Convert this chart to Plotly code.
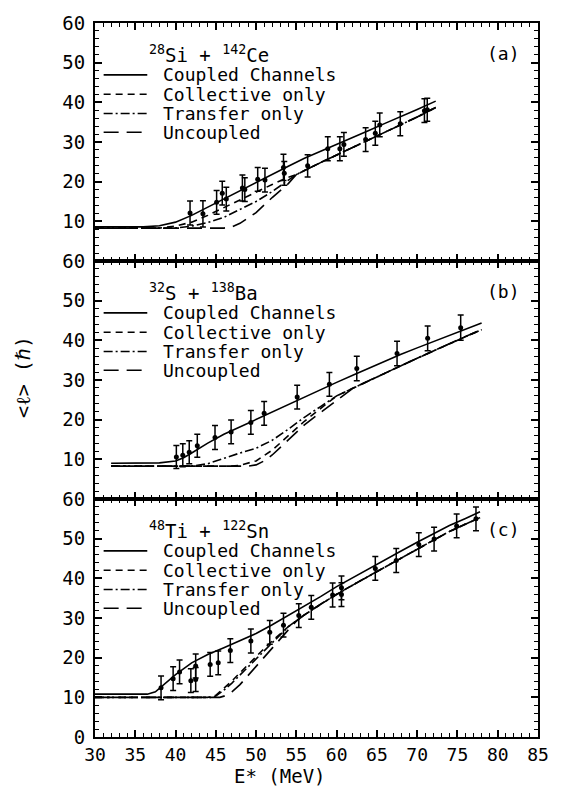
import plotly.graph_objects as go

# ---------------- data ----------------
# Panel (a) 28Si + 142Ce
a_exp_E = [41.8, 43.4, 45.1, 45.8, 46.3, 48.3, 48.6, 50.2, 51.1, 53.4, 53.5, 56.4, 58.9, 60.4, 60.9, 63.6, 64.8, 65.35, 67.9, 70.9, 71.25]
a_exp_L = [12.1, 11.9, 14.8, 17.1, 15.6, 18.4, 18.0, 20.6, 20.4, 23.6, 22.1, 24.0, 28.3, 28.3, 29.4, 30.6, 32.2, 34.3, 34.6, 37.9, 38.1]
a_exp_err = [3.0, 3.3, 3.0, 3.0, 3.0, 3.3, 3.0, 3.0, 3.0, 3.3, 3.0, 2.8, 3.0, 3.0, 3.0, 3.0, 3.0, 3.0, 3.0, 3.0, 2.9]
a_cc_E = [30, 36, 38, 40, 42, 44, 46, 48, 50, 52, 54, 56, 58, 60, 62, 64, 66, 68, 70, 72.3]
a_cc_L = [8.6, 8.6, 8.9, 9.8, 11.5, 13.6, 15.7, 17.8, 19.9, 21.9, 23.9, 25.9, 27.6, 29.4, 31.1, 32.9, 34.7, 36.4, 38.2, 40.3]
a_low_E = [55, 58, 60, 62, 64, 66, 68, 70, 72.3]
a_low_L = [21.8, 24.8, 26.7, 28.6, 30.5, 32.4, 34.3, 36.3, 38.7]
a_col_E = [30, 38, 40, 42, 44, 46, 48, 50, 52, 54]
a_col_L = [8.3, 8.3, 8.8, 9.8, 11.5, 13.5, 15.4, 17.3, 19.3, 21.1]
a_tr_E = [30, 40, 42, 44, 46, 48, 50, 52, 54]
a_tr_L = [8.3, 8.3, 8.8, 9.7, 11.0, 12.9, 15.0, 17.5, 20.3]
a_un_E = [30, 46, 47, 48, 50, 52, 54]
a_un_L = [8.3, 8.3, 8.6, 9.5, 12.2, 16.0, 19.5]

# Panel (b) 32S + 138Ba
b_exp_E = [40.1, 40.9, 41.7, 42.7, 44.9, 46.9, 49.35, 51.0, 55.1, 59.1, 62.5, 67.5, 71.3, 75.4]
b_exp_L = [10.6, 11.0, 11.8, 13.4, 15.5, 16.9, 19.3, 21.6, 25.7, 28.9, 32.9, 36.7, 40.5, 43.2]
b_exp_err = [2.9, 2.9, 2.9, 2.9, 3.0, 3.0, 3.0, 3.0, 3.0, 3.0, 3.1, 3.1, 3.1, 3.2]
b_cc_E = [32, 38, 40, 41, 42, 43, 44, 46, 48, 50, 52, 54, 56, 58, 60, 62, 65, 68, 70, 72, 75, 78]
b_cc_L = [9.0, 9.1, 9.6, 10.4, 11.6, 12.9, 14.1, 16.3, 18.2, 20.0, 21.9, 23.9, 25.8, 27.6, 29.4, 31.2, 33.9, 36.5, 38.1, 39.7, 42.1, 44.4]
b_low_E = [60, 62, 65, 68, 70, 72, 75, 78]
b_low_L = [26.0, 27.9, 30.8, 33.6, 35.5, 37.3, 40.1, 42.7]
b_col_E = [32, 47, 48, 50, 52, 54, 56, 58]
b_col_L = [8.3, 8.3, 8.5, 9.6, 12.3, 16.0, 19.6, 22.8]
b_tr_E = [32, 42, 44, 46, 48, 50, 52, 54, 56, 58]
b_tr_L = [8.3, 8.3, 8.9, 10.3, 11.6, 12.8, 14.8, 17.6, 20.6, 23.3]
b_un_E = [32, 49, 50, 51, 52, 53, 54, 55, 56, 58, 60]
b_un_L = [8.3, 8.3, 8.6, 9.6, 11.1, 12.9, 14.9, 16.8, 18.7, 21.8, 24.8]

# Panel (c) 48Ti + 122Sn
c_exp_E = [38.2, 39.7, 40.5, 41.9, 42.5, 42.5, 44.3, 45.3, 46.8, 49.35, 51.7, 53.4, 55.3, 56.85, 59.5, 60.6, 60.6, 64.8, 67.4, 70.2, 72.1, 74.9, 77.3]
c_exp_L = [12.4, 14.7, 16.4, 14.2, 14.5, 17.9, 18.3, 18.7, 21.8, 24.2, 26.4, 28.2, 30.6, 32.7, 35.8, 37.6, 35.9, 42.5, 44.5, 48.5, 49.9, 53.2, 55.0]
c_exp_err = [3.0, 3.0, 3.0, 3.0, 3.0, 3.0, 3.0, 3.0, 3.0, 3.0, 3.0, 3.0, 3.0, 3.0, 3.0, 3.0, 3.0, 3.0, 3.0, 3.0, 3.0, 3.0, 3.0]
c_cc_E = [30, 36.5, 37.5, 38.5, 40, 42, 44, 46, 48, 50, 52, 54, 56, 58, 60, 62, 64, 66, 68, 70, 72, 74, 76, 77.8]
c_cc_L = [10.8, 10.8, 11.4, 13.1, 15.7, 18.7, 20.8, 22.5, 24.2, 26.1, 28.3, 30.6, 32.9, 35.4, 37.9, 40.2, 42.5, 44.7, 46.9, 49.1, 51.3, 53.3, 55.1, 56.8]
c_low_E = [54, 56, 58, 60, 62, 64, 66, 68, 70, 72, 74, 76, 77.8]
c_low_L = [27.8, 30.8, 33.5, 36.0, 38.3, 40.6, 42.8, 45.0, 47.3, 49.6, 51.8, 53.7, 55.3]
c_col_E = [30, 44, 45, 46, 47, 48, 49, 50, 51, 52, 53]
c_col_L = [10.0, 10.0, 10.5, 12.2, 14.1, 16.2, 18.3, 20.3, 22.3, 24.2, 26.1]
c_tr_E = [30, 44.5, 45, 46, 47, 48, 49, 50, 51, 52, 53]
c_tr_L = [10.0, 10.0, 10.3, 11.8, 13.6, 15.6, 17.7, 19.8, 21.8, 23.8, 25.8]
c_un_E = [30, 45.5, 46, 47, 48, 49, 50, 51, 52, 53, 54, 55]
c_un_L = [10.0, 10.0, 10.3, 11.4, 13.2, 15.5, 17.9, 20.2, 22.5, 24.9, 27.0, 29.2]

titles = ["<sup>28</sup>Si + <sup>142</sup>Ce", "<sup>32</sup>S + <sup>138</sup>Ba", "<sup>48</sup>Ti + <sup>122</sup>Sn"]
tags = ["(a)", "(b)", "(c)"]
legend_names = ["Coupled Channels", "Collective only", "Transfer only", "Uncoupled"]
x_ticks = [30, 35, 40, 45, 50, 55, 60, 65, 70, 75, 80, 85]
y_ticks_top = [10, 20, 30, 40, 50, 60]
y_ticks_bottom = [0, 10, 20, 30, 40, 50, 60]

# ---------------- styles ----------------
FONT = "DejaVu Sans Mono"
DASHES = ["solid", "7px,5px", "9px,3px,2px,3px", "15px,8px"]
LW = 1.6


def extend(E, L, lowE, lowL):
    e = list(E) + [x for x in lowE if x > E[-1]]
    l = list(L) + [y for x, y in zip(lowE, lowL) if x > E[-1]]
    return e, l


panels = [
    dict(exp=(a_exp_E, a_exp_L, a_exp_err), cc=(a_cc_E, a_cc_L), low=(a_low_E, a_low_L),
         others=[(a_col_E, a_col_L), (a_tr_E, a_tr_L), (a_un_E, a_un_L)]),
    dict(exp=(b_exp_E, b_exp_L, b_exp_err), cc=(b_cc_E, b_cc_L), low=(b_low_E, b_low_L),
         others=[(b_col_E, b_col_L), (b_tr_E, b_tr_L), (b_un_E, b_un_L)]),
    dict(exp=(c_exp_E, c_exp_L, c_exp_err), cc=(c_cc_E, c_cc_L), low=(c_low_E, c_low_L),
         others=[(c_col_E, c_col_L), (c_tr_E, c_tr_L), (c_un_E, c_un_L)]),
]

fig = go.Figure()
annotations = []
shapes = []

for i, p in enumerate(panels):
    suf = "" if i == 0 else str(i + 1)
    xa, ya = "x" + suf, "y" + suf
    curves = [p["cc"]] + [extend(E, L, *p["low"]) for E, L in p["others"]]
    for k, (E, L) in enumerate(curves):
        fig.add_trace(go.Scatter(x=E, y=L, mode="lines", xaxis=xa, yaxis=ya, showlegend=False,
                                 line=dict(color="black", width=LW, dash=DASHES[k]),
                                 name=legend_names[k]))
    E, L, err = p["exp"]
    fig.add_trace(go.Scatter(x=E, y=L, mode="markers", xaxis=xa, yaxis=ya, showlegend=False,
                             marker=dict(color="black", size=5),
                             error_y=dict(type="data", array=err, visible=True, thickness=1.5,
                                          width=3, color="black")))
    # in-panel legend block
    xd, yd = xa + " domain", ya + " domain"
    annotations.append(dict(text=titles[i], xref=xd, yref=yd, x=0.118, y=1 - 31 / 240.7,
                            xanchor="left", yanchor="middle", showarrow=False,
                            font=dict(family=FONT, size=19, color="black")))
    annotations.append(dict(text=tags[i], xref=xd, yref=yd, x=0.922, y=1 - 31 / 240.7,
                            xanchor="center", yanchor="middle", showarrow=False,
                            font=dict(family=FONT, size=18, color="black")))
    rows = [52.5, 72.0, 91.5, 110.5]
    for k, r in enumerate(rows):
        yy = 1 - r / 240.7
        annotations.append(dict(text=legend_names[k], xref=xd, yref=yd, x=0.150, y=yy,
                                xanchor="left", yanchor="middle", showarrow=False,
                                font=dict(family=FONT, size=18, color="black")))
        shapes.append(dict(type="line", xref=xd, yref=yd, x0=0.0195, x1=0.118, y0=yy, y1=yy,
                           line=dict(color="black", width=LW, dash=DASHES[k])))

annotations.append(dict(text="&lt;ℓ&gt; (ℏ)", xref="paper", yref="paper", x=-0.1615, y=0.505,
                        textangle=-90, showarrow=False, xanchor="center", yanchor="middle",
                        font=dict(family=FONT, size=20, color="black")))
annotations.append(dict(text="E* (MeV)", xref="paper", yref="paper", x=0.417, y=-0.0549,
                        showarrow=False, xanchor="center", yanchor="middle",
                        font=dict(family=FONT, size=19, color="black")))

axis_common = dict(showline=True, linewidth=2, linecolor="black", mirror="ticks", showgrid=False,
                   zeroline=False, ticks="inside", tickwidth=1.5, tickcolor="black")

xcommon = dict(axis_common, range=[30, 85], tickmode="array", tickvals=x_ticks, ticklen=7,
               minor=dict(tickmode="linear", tick0=30, dtick=1, ticklen=4, tickwidth=1,
                          ticks="inside", tickcolor="black"),
               tickfont=dict(family=FONT, size=18, color="black"))


def ycommon(vals):
    return dict(axis_common, range=[0, 60], tickmode="array", tickvals=vals, ticklen=7,
                minor=dict(tickmode="linear", tick0=0, dtick=2, ticklen=4, tickwidth=1,
                           ticks="inside", tickcolor="black"),
                tickfont=dict(family=FONT, size=19, color="black"), ticklabelstandoff=4)


h = 1 / 3
fig.update_layout(
    width=561, height=788,
    margin=dict(l=95, r=14, t=15, b=51),
    paper_bgcolor="white", plot_bgcolor="white",
    showlegend=False,
    xaxis=dict(xcommon, anchor="y", showticklabels=False),
    xaxis2=dict(xcommon, anchor="y2", showticklabels=False),
    xaxis3=dict(xcommon, anchor="y3", showticklabels=True),
    yaxis=dict(ycommon(y_ticks_top), anchor="x", domain=[2 * h, 1]),
    yaxis2=dict(ycommon(y_ticks_top), anchor="x2", domain=[h, 2 * h]),
    yaxis3=dict(ycommon(y_ticks_bottom), anchor="x3", domain=[0, h]),
    annotations=annotations,
    shapes=shapes,
)

fig.write_html("out.html")
